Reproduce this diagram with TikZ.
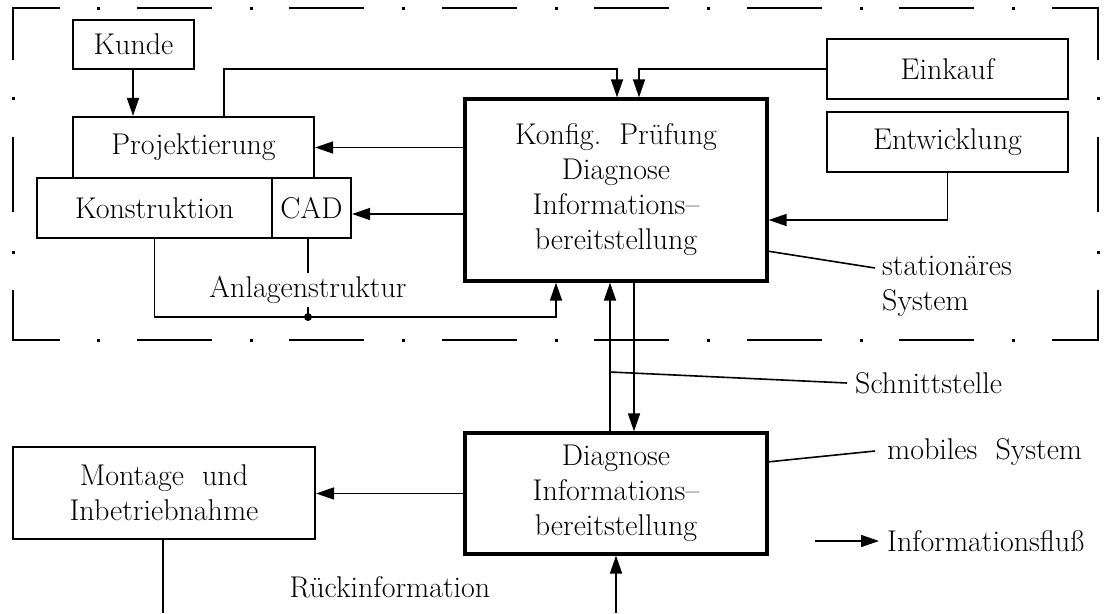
\documentclass[tikz,border=0pt]{standalone}
\usepackage{fontspec}
\usetikzlibrary{arrows.meta}
\newcommand\fsz{\fontsize{30}{35}\selectfont}
\tikzset{
  box/.style={draw, line width=2.2pt, align=center, inner sep=0pt, font=\fsz},
  bigbox/.style={box, line width=3.2pt},
  flow/.style={line width=1.6pt, -{Triangle[length=18pt,width=12pt]}},
  link/.style={line width=1.6pt},
  frame/.style={line width=2.8pt},
  lbl/.style={inner xsep=8pt, inner ysep=0pt, font=\fsz, align=left},
}
\begin{document}
\begin{tikzpicture}[x=1pt,y=-1pt]
\clip (0,0) rectangle (1115,613);
\fill[white] (0,0) rectangle (1115,613);
% dash-dot frame
\draw[frame] (60,8) -- (13,8) -- (13,60);
\draw[frame] (1052,8) -- (1098,8) -- (1098,60);
\draw[frame] (13,290) -- (13,340) -- (60,340);
\draw[frame] (1052,340) -- (1098,340) -- (1098,290);
\foreach \x in {137,289,442,594,747,899} {
  \draw[frame] (\x,8) -- ++(75,0);
  \draw[frame] (\x,340) -- ++(75,0);
}
\foreach \x in {98,251,403,556,708,861,1013} {
  \fill (\x-1.5,8-1.5) rectangle (\x+1.5,8+1.5);
  \fill (\x-1.5,340-1.5) rectangle (\x+1.5,340+1.5);
}
\draw[frame] (13,137) -- (13,212);
\draw[frame] (1098,137) -- (1098,212);
\foreach \y in {98,252} {
  \fill (13-1.5,\y-1.5) rectangle (13+1.5,\y+1.5);
  \fill (1098-1.5,\y-1.5) rectangle (1098+1.5,\y+1.5);
}
% boxes
\node[box, minimum width=121pt, minimum height=49pt] (kunde) at (133.5,44.5) {Kunde};
\node[box, minimum width=241pt, minimum height=61pt] (proj) at (193.5,147.5) {Projektierung};
\node[box, minimum width=235pt, minimum height=60pt] (konst) at (154.5,208) {Konstruktion};
\node[box, minimum width=79pt, minimum height=60pt] (cad) at (311.5,208) {CAD};
\node[bigbox, minimum width=302pt, minimum height=182pt] (konfig) at (616,190)
  {\raisebox{4pt}{\parbox{280pt}{\centering Konfig.\ \ Prüfung\\Diagnose\\Informations--\\bereitstellung}}};
\node[box, minimum width=241pt, minimum height=60pt] (einkauf) at (947.5,69) {Einkauf};
\node[box, minimum width=241pt, minimum height=60pt] (entw) at (947.5,142) {Entwicklung};
\node[bigbox, minimum width=302pt, minimum height=121pt] (diag) at (616,493.5)
  {Diagnose\\Informations--\\bereitstellung};
\node[box, minimum width=302pt, minimum height=92pt] (montage) at (164,493)
  {Montage\ \ und\\Inbetriebnahme};
% labels
\node[font=\fsz, inner xsep=0pt, inner ysep=3pt] (anl) at (308,290) {Anlagenstruktur};
\node[lbl, anchor=west] (stat) at (874,286) {stationäres\\System};
\node[lbl, anchor=west] (schn) at (847,383) {Schnittstelle};
\node[lbl, anchor=west] (mob) at (879,452) {mobiles\ \ System};
\node[lbl, anchor=west] (legend) at (879,541) {Informationsfluß};
\node[font=\fsz, inner sep=0pt] (rueck) at (390,587) {Rückinformation};
% connectors
\draw[flow] (kunde.south -| 133,0) -- (proj.north -| 133,0);
\draw[flow] (proj.north -| 224,0) |- (617,69) -- (konfig.north -| 617,0);
\draw[flow] (einkauf.west) -| (konfig.north -| 639,0);
\draw[flow] (konfig.west |- proj.east) -- (proj.east);
\draw[flow] (konfig.west |- 0,214) -- (cad.east |- 0,214);
\draw[flow] (entw.south) |- (konfig.east |- 0,220);
\coordinate (dot) at (308,317);
\draw[flow] (konst.south) |- (dot) -| (konfig.south -| 556,0);
\fill (dot) circle (4pt);
\draw[link] (cad.south -| anl.north) -- (anl.north);
\draw[link] (anl.south) -- (dot);
\draw[flow] (diag.north -| 610,0) -- (konfig.south -| 610,0);
\draw[flow] (konfig.south -| 634,0) -- (diag.north -| 634,0);
\coordinate (s1) at (610,372);
\draw[link] (s1) -- (schn.west);
\coordinate (st1) at (767,251);
\coordinate (st2) at (875,268);
\draw[link] (st1) -- (st2);
\coordinate (m1) at (767,462);
\coordinate (m2) at (875,451);
\draw[link] (m1) -- (m2);
\draw[flow] (diag.west) -- (montage.east |- diag.west);
\coordinate (mb) at (163,613);
\draw[link] (montage.south -| mb) -- (mb);
\coordinate (db) at (616,613);
\draw[flow] (db) -- (diag.south -| db);
\coordinate (lg) at (815,541);
\draw[flow] (lg) -- (legend.west);
\end{tikzpicture}
\end{document}
